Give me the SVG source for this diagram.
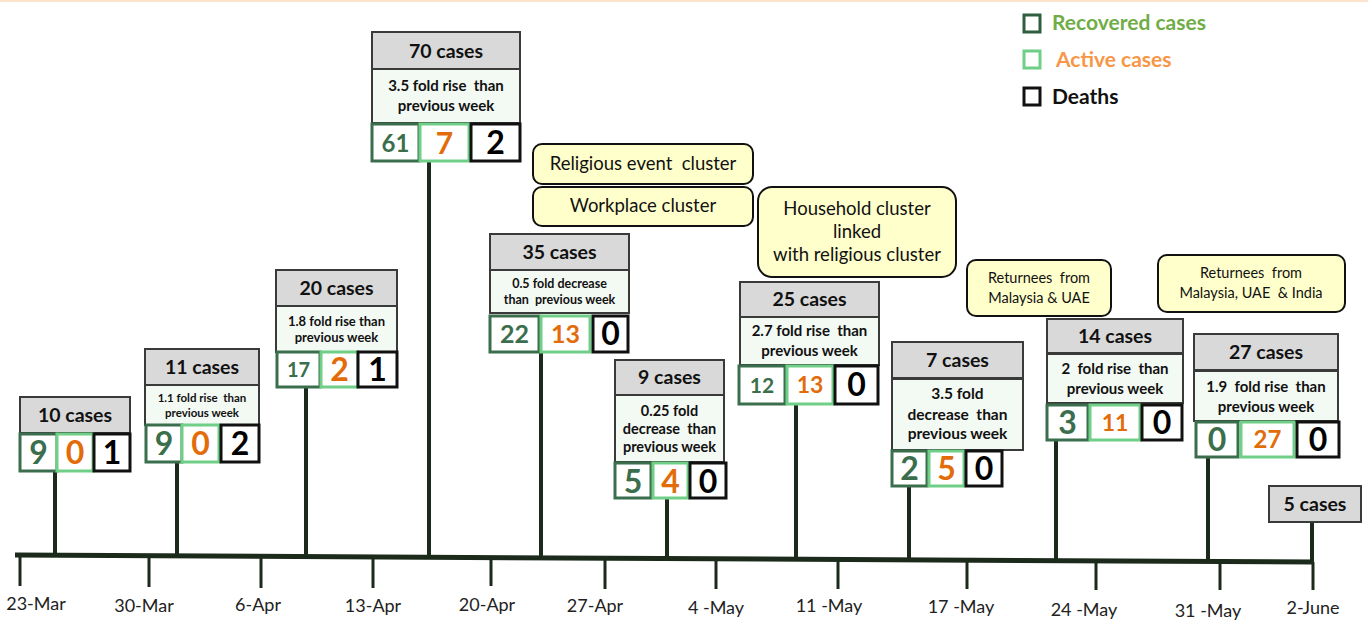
<svg xmlns="http://www.w3.org/2000/svg" width="1368" height="621" viewBox="0 0 1368 621">
<style>
text{font-family:Lato,"Open Sans","Liberation Sans",sans-serif;white-space:pre}
.hdr{fill:#d9d9d9;stroke:#3a3a3a;stroke-width:2}
.sub{fill:#f3f9f3;stroke:#3a3a3a;stroke-width:2}
.rec{fill:#fff;stroke:#3b6e4c;stroke-width:3}
.act{fill:#fff;stroke:#6fcf86;stroke-width:3}
.dth{fill:#fff;stroke:#111;stroke-width:3}
.cl{fill:#ffffcc;stroke:#111;stroke-width:2}
.ht{font-size:19.5px;font-weight:700;fill:#111;text-anchor:middle}
.st{font-weight:700;fill:#111;text-anchor:middle}
.n{font-weight:700;text-anchor:middle}
.nr{fill:#3b6e4c}.na{fill:#e36c0a}.nd{fill:#000}
.ct{font-size:18.5px;fill:#111;text-anchor:middle}
.rt{font-size:14.5px;fill:#111;text-anchor:middle}
.dt{font-size:18px;fill:#222;text-anchor:middle}
.stem{stroke:#1b2a1b;stroke-width:4}
.tick{stroke:#1b2a1b;stroke-width:3}
</style>
<rect x="0" y="0" width="1368" height="621" fill="#fff"/>
<rect x="0" y="0" width="1368" height="2" fill="#fce4cc"/>

<g id="legend">
<rect x="1024" y="15" width="16" height="17" fill="none" stroke="#2e5e3e" stroke-width="3"/>
<text x="1052" y="30" font-size="21" font-weight="700" fill="#70ad47">Recovered cases</text>
<rect x="1024" y="51" width="16" height="17" fill="none" stroke="#6fcf86" stroke-width="3"/>
<text x="1056" y="67" font-size="21" font-weight="700" fill="#f79646">Active cases</text>
<rect x="1024" y="88" width="16" height="17" fill="none" stroke="#111" stroke-width="3"/>
<text x="1052" y="104" font-size="21" font-weight="700" fill="#111">Deaths</text>
</g>

<g id="connectors">
<line x1="15" y1="555" x2="1314" y2="562" stroke="#1b2a1b" stroke-width="5"/>
<line class="tick" x1="20" y1="556" x2="20" y2="586"/>
<line class="tick" x1="149" y1="556" x2="149" y2="587"/>
<line class="tick" x1="261" y1="557" x2="261" y2="588"/>
<line class="tick" x1="373" y1="557" x2="373" y2="588"/>
<line class="tick" x1="491" y1="557" x2="491" y2="586"/>
<line class="tick" x1="605" y1="558" x2="605" y2="589"/>
<line class="tick" x1="716" y1="559" x2="716" y2="589"/>
<line class="tick" x1="838" y1="560" x2="838" y2="589"/>
<line class="tick" x1="967" y1="560" x2="967" y2="589"/>
<line class="tick" x1="1096" y1="561" x2="1096" y2="590"/>
<line class="tick" x1="1220" y1="562" x2="1220" y2="590"/>
<line class="tick" x1="1313" y1="562" x2="1313" y2="590"/>
<line class="stem" x1="55" y1="471" x2="55" y2="556"/>
<line class="stem" x1="177" y1="462" x2="177" y2="556"/>
<line class="stem" x1="306" y1="387" x2="306" y2="557"/>
<line class="stem" x1="429" y1="161" x2="429" y2="557"/>
<line class="stem" x1="541" y1="352" x2="541" y2="558"/>
<line class="stem" x1="667" y1="498" x2="667" y2="559"/>
<line class="stem" x1="796" y1="404" x2="796" y2="559"/>
<line class="stem" x1="909" y1="486" x2="909" y2="560"/>
<line class="stem" x1="1056" y1="440" x2="1056" y2="561"/>
<line class="stem" x1="1208" y1="457" x2="1208" y2="562"/>
<line class="stem" x1="1312" y1="522" x2="1312" y2="562"/>
</g>

<g id="dates">
<text class="dt" x="36" y="610">23-Mar</text>
<text class="dt" x="144" y="612">30-Mar</text>
<text class="dt" x="258" y="611">6-Apr</text>
<text class="dt" x="373" y="612">13-Apr</text>
<text class="dt" x="487" y="611">20-Apr</text>
<text class="dt" x="595" y="612">27-Apr</text>
<text class="dt" x="716" y="614">4 -May</text>
<text class="dt" x="829" y="612">11 -May</text>
<text class="dt" x="961" y="613">17 -May</text>
<text class="dt" x="1084" y="616">24 -May</text>
<text class="dt" x="1208" y="617">31 -May</text>
<text class="dt" x="1313" y="614">2-June</text>
</g>

<g id="n-23mar">
<rect class="hdr" x="20" y="397" width="110" height="36"/>
<text class="ht" x="75" y="422">10 cases</text>
<rect class="rec" x="20" y="434" width="37" height="37"/>
<rect class="act" x="57" y="434" width="36" height="37"/>
<rect class="dth" x="94" y="434" width="36" height="37"/>
<text class="n nr" x="38.5" y="464" font-size="32">9</text>
<text class="n na" x="75" y="464" font-size="32">0</text>
<text class="n nd" x="112" y="464" font-size="32">1</text>
</g>

<g id="n-30mar">
<rect class="hdr" x="145" y="349" width="114" height="36"/>
<text class="ht" x="202" y="374">11 cases</text>
<rect class="sub" x="145" y="385" width="114" height="40"/>
<text class="st" x="202" y="402" font-size="11.5">1.1 fold rise  than</text>
<text class="st" x="202" y="417" font-size="11.5">previous week</text>
<rect class="rec" x="146" y="425" width="36" height="37"/>
<rect class="act" x="182" y="425" width="37" height="37"/>
<rect class="dth" x="221" y="425" width="38" height="37"/>
<text class="n nr" x="164" y="455" font-size="32">9</text>
<text class="n na" x="200.5" y="455" font-size="32">0</text>
<text class="n nd" x="240" y="455" font-size="32">2</text>
</g>

<g id="n-6apr">
<rect class="hdr" x="276" y="270" width="121" height="36"/>
<text class="ht" x="336.5" y="295">20 cases</text>
<rect class="sub" x="276" y="306" width="121" height="46"/>
<text class="st" x="336.5" y="326" font-size="13">1.8 fold rise than</text>
<text class="st" x="336.5" y="342" font-size="13">previous week</text>
<rect class="rec" x="277" y="352" width="43" height="35"/>
<rect class="act" x="321" y="352" width="37" height="35"/>
<rect class="dth" x="358" y="352" width="39" height="35"/>
<text class="n nr" x="298.5" y="377" font-size="20">17</text>
<text class="n na" x="339.5" y="381" font-size="32">2</text>
<text class="n nd" x="377.5" y="381" font-size="32">1</text>
</g>

<g id="n-13apr">
<rect class="hdr" x="372" y="32" width="148" height="37"/>
<text class="ht" x="446" y="58">70 cases</text>
<rect class="sub" x="372" y="69" width="148" height="54"/>
<text class="st" x="446" y="91" font-size="15">3.5 fold rise  than</text>
<text class="st" x="446" y="111" font-size="15">previous week</text>
<rect class="rec" x="372" y="124" width="47" height="37"/>
<rect class="act" x="420" y="124" width="49" height="37"/>
<rect class="dth" x="471" y="124" width="49" height="37"/>
<text class="n nr" x="395.5" y="152" font-size="24">61</text>
<text class="n na" x="444.5" y="154" font-size="30">7</text>
<text class="n nd" x="495.5" y="154" font-size="32">2</text>
</g>

<g id="c-religious">
<rect class="cl" x="533" y="144" width="220" height="40" rx="9"/>
<text class="ct" x="643" y="170">Religious event  cluster</text>
</g>
<g id="c-workplace">
<rect class="cl" x="533" y="187" width="220" height="39" rx="9"/>
<text class="ct" x="643" y="212">Workplace cluster</text>
</g>

<g id="n-20apr">
<rect class="hdr" x="490" y="234" width="139" height="36"/>
<text class="ht" x="559.5" y="259">35 cases</text>
<rect class="sub" x="490" y="270" width="139" height="43"/>
<text class="st" x="559.5" y="288" font-size="12.5">0.5 fold decrease</text>
<text class="st" x="559.5" y="304" font-size="12.5">than  previous week</text>
<rect class="rec" x="490" y="316" width="49" height="36"/>
<rect class="act" x="541" y="316" width="49" height="36"/>
<rect class="dth" x="593" y="316" width="35" height="36"/>
<text class="n nr" x="514.5" y="343" font-size="25">22</text>
<text class="n na" x="565.5" y="343" font-size="25">13</text>
<text class="n nd" x="610.5" y="345" font-size="32">0</text>
</g>

<g id="c-household">
<rect class="cl" x="758" y="187" width="198" height="90" rx="14"/>
<text class="ct" x="857" y="215">Household cluster</text>
<text class="ct" x="857" y="238">linked</text>
<text class="ct" x="857" y="261">with religious cluster</text>
</g>

<g id="n-27apr">
<rect class="hdr" x="615" y="360" width="109" height="35"/>
<text class="ht" x="669.5" y="384">9 cases</text>
<rect class="sub" x="615" y="395" width="109" height="67"/>
<text class="st" x="669.5" y="416" font-size="14.5">0.25 fold</text>
<text class="st" x="669.5" y="434" font-size="14.5">decrease  than</text>
<text class="st" x="669.5" y="452" font-size="14.5">previous week</text>
<rect class="rec" x="615" y="463" width="36" height="35"/>
<rect class="act" x="653" y="463" width="35" height="35"/>
<rect class="dth" x="690" y="463" width="36" height="35"/>
<text class="n nr" x="633" y="493" font-size="32">5</text>
<text class="n na" x="670.5" y="493" font-size="32">4</text>
<text class="n nd" x="708" y="493" font-size="32">0</text>
</g>

<g id="n-4may">
<rect class="hdr" x="740" y="282" width="139" height="35"/>
<text class="ht" x="809.5" y="306">25 cases</text>
<rect class="sub" x="740" y="317" width="139" height="48"/>
<text class="st" x="809.5" y="336" font-size="15">2.7 fold rise  than</text>
<text class="st" x="809.5" y="356" font-size="15">previous week</text>
<rect class="rec" x="739" y="366" width="46" height="38"/>
<rect class="act" x="787" y="366" width="46" height="38"/>
<rect class="dth" x="835" y="366" width="43" height="38"/>
<text class="n nr" x="762" y="393" font-size="21">12</text>
<text class="n na" x="810" y="393" font-size="23">13</text>
<text class="n nd" x="856.5" y="396" font-size="32">0</text>
</g>

<g id="c-returnees1">
<rect class="cl" x="967" y="260" width="144" height="56" rx="9"/>
<text class="rt" x="1039" y="283">Returnees  from</text>
<text class="rt" x="1039" y="303">Malaysia &amp; UAE</text>
</g>
<g id="c-returnees2">
<rect class="cl" x="1158" y="255" width="187" height="57" rx="9"/>
<text class="rt" x="1251" y="278">Returnees  from</text>
<text class="rt" x="1251" y="298">Malaysia, UAE  &amp; India</text>
</g>

<g id="n-11may">
<rect class="hdr" x="892" y="342" width="131" height="36"/>
<text class="ht" x="957.5" y="367">7 cases</text>
<rect class="sub" x="892" y="379" width="131" height="71"/>
<text class="st" x="957.5" y="399" font-size="15.5">3.5 fold</text>
<text class="st" x="957.5" y="420" font-size="15.5">decrease  than</text>
<text class="st" x="957.5" y="439" font-size="15.5">previous week</text>
<rect class="rec" x="892" y="451" width="35" height="35"/>
<rect class="act" x="929" y="451" width="35" height="35"/>
<rect class="dth" x="966" y="451" width="36" height="35"/>
<text class="n nr" x="909.5" y="480" font-size="32">2</text>
<text class="n na" x="946.5" y="480" font-size="32">5</text>
<text class="n nd" x="984" y="480" font-size="32">0</text>
</g>

<g id="n-17may">
<rect class="hdr" x="1047" y="319" width="136" height="34"/>
<text class="ht" x="1115" y="343">14 cases</text>
<rect class="sub" x="1047" y="354" width="136" height="49"/>
<text class="st" x="1115" y="374" font-size="15">2  fold rise  than</text>
<text class="st" x="1115" y="394" font-size="15">previous week</text>
<rect class="rec" x="1047" y="405" width="41" height="35"/>
<rect class="act" x="1090" y="405" width="50" height="35"/>
<rect class="dth" x="1142" y="405" width="40" height="35"/>
<text class="n nr" x="1067.5" y="434" font-size="32">3</text>
<text class="n na" x="1115" y="431" font-size="23">11</text>
<text class="n nd" x="1162" y="434" font-size="32">0</text>
</g>

<g id="n-24may">
<rect class="hdr" x="1194" y="334" width="144" height="36"/>
<text class="ht" x="1266" y="359">27 cases</text>
<rect class="sub" x="1194" y="371" width="144" height="50"/>
<text class="st" x="1266" y="392" font-size="15">1.9  fold rise  than</text>
<text class="st" x="1266" y="412" font-size="15">previous week</text>
<rect class="rec" x="1196" y="422" width="42" height="35"/>
<rect class="act" x="1241" y="422" width="53" height="35"/>
<rect class="dth" x="1297" y="422" width="42" height="35"/>
<text class="n nr" x="1217" y="451" font-size="32">0</text>
<text class="n na" x="1267.5" y="448" font-size="24">27</text>
<text class="n nd" x="1318" y="451" font-size="32">0</text>
</g>

<g id="n-2june">
<rect class="hdr" x="1269" y="486" width="92" height="36"/>
<text class="ht" x="1315" y="511">5 cases</text>
</g>
</svg>
